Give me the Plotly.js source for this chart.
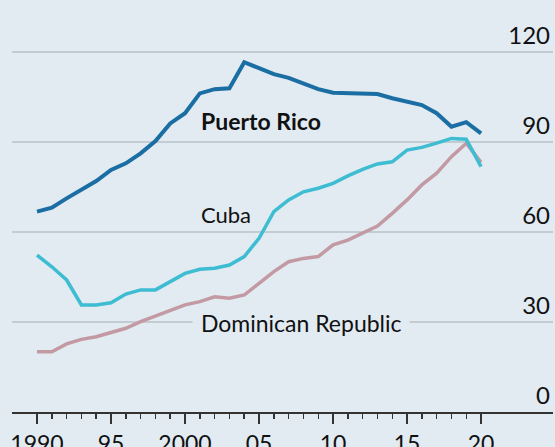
<!DOCTYPE html>
<html>
<head>
<meta charset="utf-8">
<script src="https://cdn.plot.ly/plotly-3.0.1.min.js"></script>
<style>
html,body{margin:0;padding:0;background:#e1ebf1;}
#chart{width:555px;height:447px;}
</style>
</head>
<body>
<div id="chart"></div>
<script>
const years = [1990,1991,1992,1993,1994,1995,1996,1997,1998,1999,2000,2001,2002,2003,2004,2005,2006,2007,2008,2009,2010,2011,2012,2013,2014,2015,2016,2017,2018,2019,2020];
const puertoRico = [66.8,68.1,71.2,74.0,77.0,80.7,82.9,86.2,90.3,96.2,99.6,106.2,107.6,107.9,116.6,114.6,112.6,111.4,109.6,107.6,106.4,106.2,106.2,106.0,104.6,103.4,102.3,99.6,95.1,96.6,92.9];
const cuba = [52.3,48.4,44.0,35.7,35.7,36.4,39.3,40.7,40.7,43.4,46.2,47.6,47.9,49.0,51.8,57.9,66.8,70.7,73.4,74.6,76.2,78.7,80.9,82.7,83.4,87.3,88.2,89.6,91.2,90.9,81.8];
const dominicanRepublic = [20.1,20.1,22.7,24.2,25.1,26.4,27.9,30.1,32.0,34.0,35.7,36.8,38.4,37.9,39.0,42.9,46.8,50.1,51.2,51.8,55.7,57.3,59.6,62.0,66.2,70.7,75.7,79.6,85.1,89.6,83.2];
const majorTickVals = [1990,1995,2000,2005,2010,2015,2020];
const majorTickText = ["1990","95","2000","05","10","15","20"];
const yTickVals = [0,30,60,90,120];
const yTickText = ["0","30","60","90","120"];
const seriesNames = ["Puerto Rico","Cuba","Dominican Republic"];

const bg = "#e1ebf1";
const font = "Lato, 'Noto Sans', sans-serif";

const traces = [
  {x: years, y: dominicanRepublic, type: "scatter", mode: "lines", name: seriesNames[2],
   line: {color: "#c39aa3", width: 3.5}, hoverinfo: "skip"},
  {x: years, y: cuba, type: "scatter", mode: "lines", name: seriesNames[1],
   line: {color: "#3ebcd2", width: 3.5}, hoverinfo: "skip"},
  {x: years, y: puertoRico, type: "scatter", mode: "lines", name: seriesNames[0],
   line: {color: "#1a6ea3", width: 4}, hoverinfo: "skip"},
  {x: [years[0]], y: [0], xaxis: "x2", type: "scatter", mode: "none", showlegend: false, hoverinfo: "skip"}
];

const layout = {
  width: 555, height: 447,
  paper_bgcolor: bg, plot_bgcolor: bg,
  showlegend: false,
  margin: {l: 12, r: 2, t: 49, b: 35},
  font: {family: font, size: 22, color: "#111"},
  xaxis: {
    range: [1988.31, 2024.86],
    tickvals: majorTickVals, ticktext: majorTickText,
    ticks: "outside", ticklen: 10, tickwidth: 2, tickcolor: "#333",
    showline: true, linecolor: "#333", linewidth: 2,
    showgrid: false, zeroline: false,
    tickfont: {family: font, size: 23, color: "#111"}
  },
  xaxis2: {
    range: [1988.31, 2024.86], overlaying: "x", anchor: "y", side: "bottom",
    tickvals: years, ticks: "outside", ticklen: 6, tickwidth: 1.5, tickcolor: "#333",
    showticklabels: false, showline: false, showgrid: false, zeroline: false
  },
  yaxis: {
    side: "right", range: [0, 121],
    tickvals: yTickVals, ticktext: yTickText,
    ticklabelposition: "inside top", ticklabeloverflow: "allow",
    showgrid: true, gridcolor: "#c3ccd2", gridwidth: 1.5,
    zeroline: false, showline: false, ticks: "",
    tickfont: {family: font, size: 24, color: "#111"}
  },
  annotations: [
    {x: 2000.95, y: 97, xref: "x", yref: "y", xanchor: "left", yanchor: "middle",
     text: "<b>" + seriesNames[0] + "</b>", showarrow: false,
     font: {family: font, size: 23, color: "#111"}},
    {x: 2000.95, y: 66, xref: "x", yref: "y", xanchor: "left", yanchor: "middle",
     text: seriesNames[1], showarrow: false,
     font: {family: font, size: 22, color: "#111"}},
    {x: 2000.45, y: 29.7, xref: "x", yref: "y", xanchor: "left", yanchor: "middle",
     text: "\u00a0" + seriesNames[2] + "\u00a0", showarrow: false, bgcolor: bg, borderpad: 2,
     font: {family: font, size: 23, color: "#111"}}
  ]
};

Plotly.newPlot("chart", traces, layout, {displayModeBar: false, staticPlot: true});
</script>
</body>
</html>
